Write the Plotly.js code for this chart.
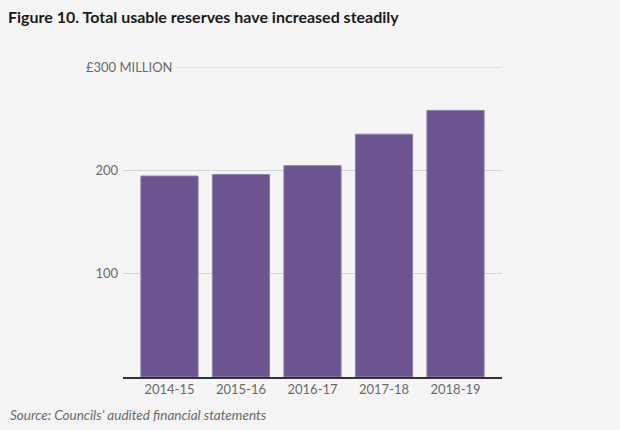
<!DOCTYPE html>
<html>
<head>
<meta charset="utf-8">
<script src="https://cdn.plot.ly/plotly-3.0.1.min.js"></script>
<style>
html,body{margin:0;padding:0;background:#f5f5f5;}
#chart{width:620px;height:430px;}
</style>
</head>
<body>
<div id="chart"></div>
<script>
const years = ["2014-15", "2015-16", "2016-17", "2017-18", "2018-19"];
const reserves = [194.5, 196, 204.5, 235, 258];
const yTickVals = [100, 200];
const yTickText = ["100", "200"];
const topValue = 300;
const topLabel = "£300 MILLION";
const titleText = "Figure 10. Total usable reserves have increased steadily";
const sourceText = "Source: Councils’ audited financial statements";

const font = "Lato, 'Open Sans', sans-serif";

const trace = {
  type: "bar",
  x: years,
  y: reserves,
  marker: {color: "#6b548f", line: {color: "#8e7eae", width: 1}},
  hoverinfo: "x+y"
};

const layout = {
  width: 620, height: 430,
  paper_bgcolor: "#f5f5f5",
  plot_bgcolor: "#f5f5f5",
  margin: {l: 123, r: 118, t: 67, b: 53},
  bargap: 0.2,
  showlegend: false,
  font: {family: font, color: "#6a6a6a", size: 13},
  title: {
    text: "<b>" + titleText + "</b>",
    x: 8/620, xanchor: "left", xref: "container",
    y: 0.96, yanchor: "middle", yref: "container",
    font: {family: font, size: 16, color: "#1a1a1a"}
  },
  xaxis: {
    type: "category",
    range: [-0.65, 4.65],
    showline: true, linecolor: "#333333", linewidth: 1.5,
    ticks: "", showgrid: false, zeroline: false,
    tickfont: {family: font, size: 13, color: "#6a6a6a"},
    fixedrange: true
  },
  yaxis: {
    range: [0, 300],
    tickvals: yTickVals,
    ticktext: yTickText,
    showgrid: true, gridcolor: "#d4d4d4", gridwidth: 1,
    zeroline: false, showline: false, ticks: "",
    ticklabelstandoff: 4,
    tickfont: {family: font, size: 13, color: "#6a6a6a"},
    fixedrange: true
  },
  shapes: [
    {
      type: "line", xref: "paper", yref: "y",
      x0: (177-123)/379, x1: 1, y0: topValue, y1: topValue,
      line: {color: "#d4d4d4", width: 1}, layer: "below"
    }
  ],
  annotations: [
    {
      text: topLabel, xref: "paper", yref: "y",
      x: (84-123)/379, y: topValue, xanchor: "left", yanchor: "middle",
      showarrow: false,
      font: {family: font, size: 13, color: "#6a6a6a"}
    },
    {
      text: "<i>" + sourceText + "</i>", xref: "paper", yref: "paper",
      x: -115/379, y: -38/310, xanchor: "left", yanchor: "middle",
      showarrow: false,
      font: {family: font, size: 13.5, color: "#6a6a6a"}
    }
  ]
};

Plotly.newPlot("chart", [trace], layout, {displayModeBar: false, staticPlot: true});
</script>
</body>
</html>
